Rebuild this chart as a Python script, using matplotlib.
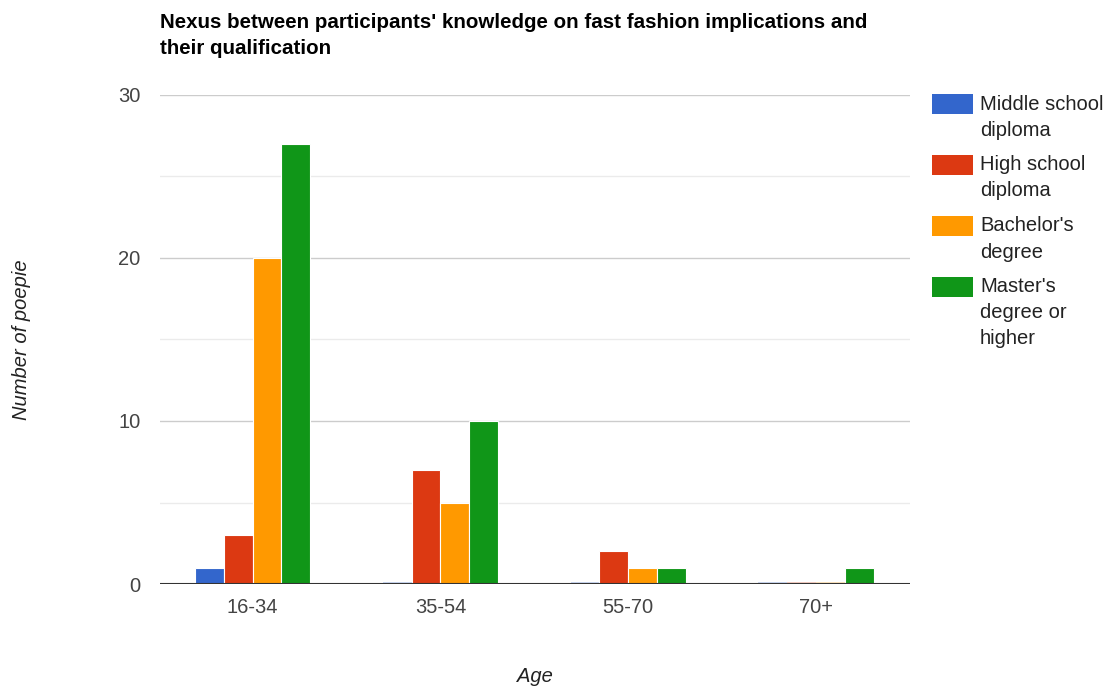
import numpy as np
import matplotlib.pyplot as plt
from matplotlib.patches import Rectangle

plt.rcParams['font.family'] = ['Liberation Sans', 'DejaVu Sans']

# Data
ages = ['16-34', '35-54', '55-70', '70+']
middle_school = [1, 0, 0, 0]
high_school = [3, 7, 2, 0]
bachelors = [20, 5, 1, 0]
masters = [27, 10, 1, 1]

series_names = ['Middle school\ndiploma', 'High school\ndiploma',
                "Bachelor's\ndegree", "Master's\ndegree or\nhigher"]
series_values = [middle_school, high_school, bachelors, masters]
colors = ['#3366cc', '#dc3912', '#ff9900', '#109618']

W, H = 1112, 688
fig = plt.figure(figsize=(W / 100, H / 100), dpi=100)
ax = fig.add_axes([160 / W, 1 - 584 / H, 750 / W, 489 / H])

x = np.arange(len(ages))
slot = 0.1535
for i, (vals, c) in enumerate(zip(series_values, colors)):
    offs = (i - 1.5) * slot
    vals = np.array(vals, dtype=float)
    ax.bar(x + offs, vals, width=slot, color=c, edgecolor='white',
           linewidth=0.8, zorder=3)
    # zero values show as a faint sliver on the baseline
    zero = vals == 0
    ax.bar((x + offs)[zero], np.full(zero.sum(), 0.12), width=slot,
           color=c, alpha=0.25, edgecolor='none', zorder=3)

ax.set_xlim(-0.493, 3.5)
ax.set_ylim(0, 30)
ax.set_yticks([0, 10, 20, 30])
ax.set_yticks([5, 15, 25], minor=True)
ax.grid(axis='y', which='major', color='#cccccc', linewidth=1, zorder=0)
ax.grid(axis='y', which='minor', color='#ebebeb', linewidth=1, zorder=0)
ax.axhline(0, color='#333333', linewidth=1.5, zorder=4)

for s in ax.spines.values():
    s.set_visible(False)
ax.tick_params(axis='both', which='both', length=0, labelsize=14.5, colors='#444444')
ax.tick_params(axis='y', pad=14)
ax.tick_params(axis='x', pad=10)
ax.set_xticks(x)
ax.set_xticklabels(ages)

fig.text(22 / W, 1 - 340 / H, 'Number of poepie', rotation=90, style='italic',
         fontsize=14.5, color='#222222', ha='center', va='center')
fig.text(535 / W, 1 - 676 / H, 'Age', style='italic',
         fontsize=14.5, color='#222222', ha='center', va='center')

title_lines = ["Nexus between participants' knowledge on fast fashion implications and",
               "their qualification"]
for k, line in enumerate(title_lines):
    fig.text(160 / W, 1 - (22 + 27 * k) / H, line, fontsize=14.8, fontweight='bold',
             color='#000000', ha='left', va='center')

# legend drawn by hand (Google Charts style, wrapped labels)
y0 = 104
for name, c in zip(series_names, colors):
    lines = name.split('\n')
    fig.add_artist(Rectangle((932 / W, 1 - (y0 + 10) / H), 41 / W, 20 / H,
                             transform=fig.transFigure, facecolor=c, edgecolor='none'))
    for k, line in enumerate(lines):
        fig.text(980 / W, 1 - (y0 + 26 * k) / H, line, fontsize=14.5,
                 color='#222222', ha='left', va='center')
    y0 += 26 * len(lines) + 9

fig.savefig('out.png', dpi=100)
